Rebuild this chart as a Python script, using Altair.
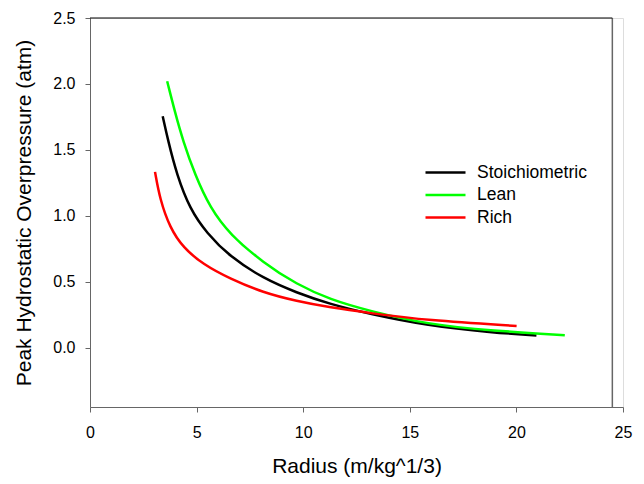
import altair as alt
import pandas as pd

# Stoichiometric (black)
stoich_x = [3.41, 3.67, 4.07, 4.69, 5.47, 6.56, 8.13, 9.69, 11.25, 13.13, 15.79, 18.91, 20.94]
stoich_y = [1.755, 1.565, 1.313, 1.050, 0.870, 0.690, 0.525, 0.417, 0.330, 0.255, 0.168, 0.114, 0.093]

# Lean (green)
lean_x = [3.62, 3.99, 4.37, 4.92, 5.63, 6.56, 8.13, 9.69, 11.25, 13.13, 15.79, 18.91, 22.27]
lean_y = [2.020, 1.783, 1.565, 1.313, 1.061, 0.858, 0.644, 0.480, 0.366, 0.277, 0.178, 0.128, 0.095]

# Rich (red)
rich_x = [3.05, 3.28, 3.75, 4.37, 5.31, 6.56, 8.13, 9.69, 11.25, 13.13, 15.79, 20.01]
rich_y = [1.333, 1.125, 0.909, 0.758, 0.631, 0.523, 0.417, 0.353, 0.305, 0.262, 0.207, 0.164]

series = ["Stoichiometric", "Lean", "Rich"]
colors = ["#000000", "#00ff00", "#ff0000"]

x_ticks = [0, 5, 10, 15, 20, 25]
y_ticks = [0.0, 0.5, 1.0, 1.5, 2.0, 2.5]

rows = []
for name, xs, ys in [("Stoichiometric", stoich_x, stoich_y),
                     ("Lean", lean_x, lean_y),
                     ("Rich", rich_x, rich_y)]:
    for i, (a, b) in enumerate(zip(xs, ys)):
        rows.append({"series": name, "radius": a, "pressure": b, "order": i})
df = pd.DataFrame(rows)

FONT = "Liberation Sans"

x_scale = alt.Scale(domain=[0, 25], nice=False, zero=False)
y_scale = alt.Scale(domain=[-0.45, 2.5], nice=False, zero=False)

lines = alt.Chart(df).mark_line(strokeWidth=2.5, interpolate="basis").encode(
    x=alt.X("radius:Q", scale=x_scale,
            axis=alt.Axis(title="Radius (m/kg^1/3)", values=x_ticks, format="d",
                          grid=False, tickSize=5, labelPadding=12, titlePadding=15,
                          labelFlush=False,
                          labelFontSize=16, titleFontSize=21, labelFont=FONT, titleFont=FONT,
                          titleFontWeight="normal", domainColor="#666666", tickColor="#666666",
                          labelColor="#000000", titleColor="#000000")),
    y=alt.Y("pressure:Q", scale=y_scale,
            axis=alt.Axis(title="Peak Hydrostatic Overpressure (atm)", values=y_ticks, format=".1f",
                          grid=False, tickSize=5, labelPadding=10, titlePadding=18,
                          labelFlush=False,
                          labelFontSize=16, titleFontSize=21, labelFont=FONT, titleFont=FONT,
                          titleFontWeight="normal", domainColor="#666666", tickColor="#666666",
                          labelColor="#000000", titleColor="#000000")),
    color=alt.Color("series:N", sort=series,
                    scale=alt.Scale(domain=series, range=colors),
                    legend=alt.Legend(title=None, orient="none", legendX=344, legendY=143,
                                      symbolType="M-2,0H2", symbolSize=400, symbolStrokeWidth=2.5,
                                      labelFontSize=17.5, labelFont=FONT, labelColor="#000000",
                                      rowPadding=2.5, padding=0, labelOffset=20)),
    order="order:Q",
)

right_rule = alt.Chart(pd.DataFrame({"v": [24.5]})).mark_rule(color="#666666", strokeWidth=1.5).encode(
    x=alt.X("v:Q", scale=x_scale)
)
top_rule = alt.Chart(pd.DataFrame({"a": [0], "b": [24.5], "y": [2.5]})).mark_rule(color="#000000", strokeWidth=1).encode(
    x=alt.X("a:Q", scale=x_scale), x2="b:Q", y=alt.Y("y:Q", scale=y_scale)
)

chart = alt.layer(lines, right_rule, top_rule).properties(
    width=533, height=389,
    autosize=alt.AutoSizeParams(type="none"),
    padding={"left": 90, "top": 18, "right": 21, "bottom": 77},
).configure_view(stroke=None).configure(background="white")

chart.save("out.html", embed_options={"renderer": "svg", "actions": False})
